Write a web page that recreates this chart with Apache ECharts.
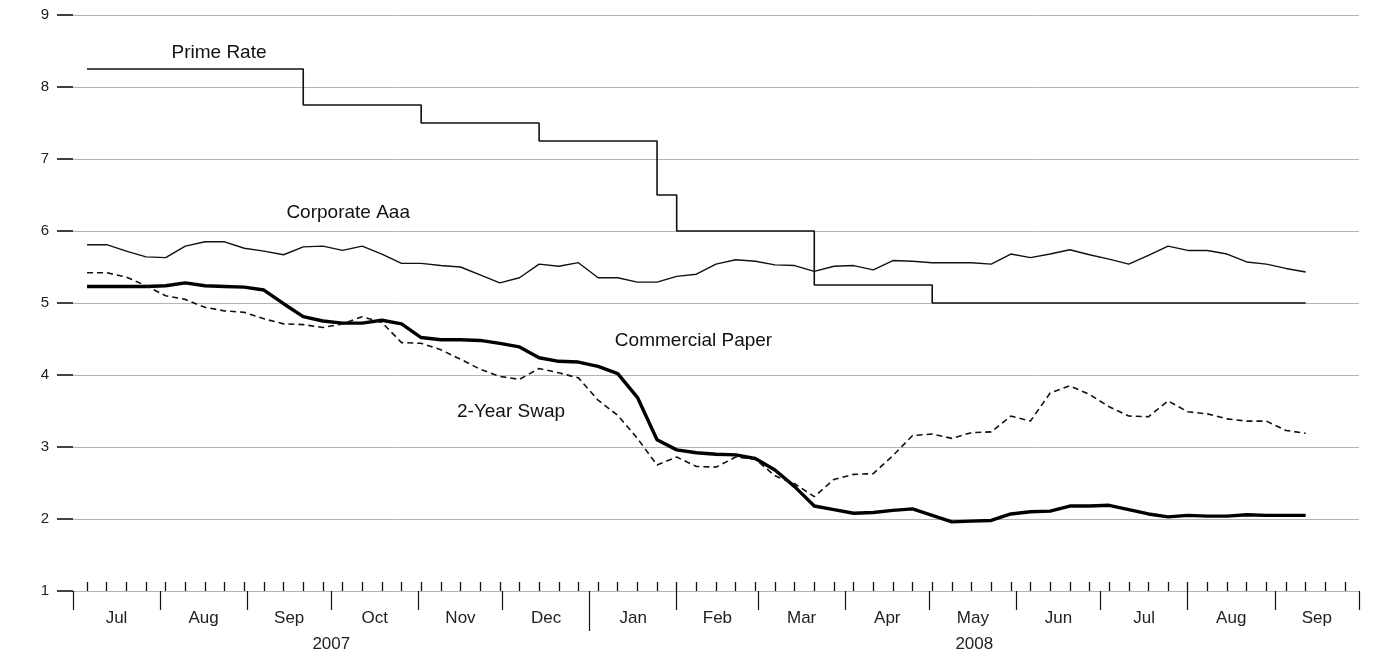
<!DOCTYPE html>
<html>
<head>
<meta charset="utf-8">
<script src="https://cdn.jsdelivr.net/npm/echarts@6/dist/echarts.min.js"></script>
<style>
html, body { margin: 0; padding: 0; background: #fff; }
#chart { width: 1379px; height: 658px; }
</style>
</head>
<body>
<div id="chart"></div>
<script>
// weekly readings (Fridays), first one 6 Jul 2007
var DAY = 86400000;
var firstWeek = Date.UTC(2007, 6, 6);

var primeRate = [8.25, 8.25, 8.25, 8.25, 8.25, 8.25, 8.25, 8.25, 8.25, 8.25, 8.25,
    7.75, 7.75, 7.75, 7.75, 7.75, 7.75,
    7.5, 7.5, 7.5, 7.5, 7.5, 7.5,
    7.25, 7.25, 7.25, 7.25, 7.25, 7.25,
    6.5,
    6.0, 6.0, 6.0, 6.0, 6.0, 6.0, 6.0,
    5.25, 5.25, 5.25, 5.25, 5.25, 5.25,
    5.0, 5.0, 5.0, 5.0, 5.0, 5.0, 5.0, 5.0, 5.0, 5.0, 5.0, 5.0, 5.0, 5.0, 5.0, 5.0, 5.0, 5.0, 5.0, 5.0];

var corporateAaa = [5.81, 5.81, 5.72, 5.64, 5.63, 5.79, 5.85, 5.85, 5.76, 5.72, 5.67,
    5.78, 5.79, 5.73, 5.79, 5.68, 5.55, 5.55, 5.52, 5.50, 5.39,
    5.28, 5.35, 5.54, 5.51, 5.56, 5.35, 5.35, 5.29, 5.29, 5.37,
    5.40, 5.54, 5.60, 5.58, 5.53, 5.52, 5.44, 5.51, 5.52, 5.46,
    5.59, 5.58, 5.56, 5.56, 5.56, 5.54, 5.68, 5.63, 5.68, 5.74,
    5.67, 5.61, 5.54, 5.66, 5.79, 5.73, 5.73, 5.68, 5.57, 5.54, 5.48, 5.43];

var commercialPaper = [5.23, 5.23, 5.23, 5.23, 5.24, 5.28, 5.24, 5.23, 5.22, 5.18, 4.99,
    4.81, 4.75, 4.72, 4.72, 4.76, 4.71, 4.52, 4.49, 4.49, 4.48,
    4.44, 4.39, 4.24, 4.19, 4.18, 4.12, 4.02, 3.69, 3.10, 2.96,
    2.92, 2.90, 2.89, 2.84, 2.68, 2.45, 2.18, 2.13, 2.08, 2.09,
    2.12, 2.14, 2.05, 1.96, 1.97, 1.98, 2.07, 2.10, 2.11, 2.18,
    2.18, 2.19, 2.13, 2.07, 2.03, 2.05, 2.04, 2.04, 2.06, 2.05, 2.05, 2.05];

var twoYearSwap = [5.42, 5.42, 5.36, 5.24, 5.10, 5.05, 4.94, 4.89, 4.87, 4.78, 4.71,
    4.70, 4.66, 4.71, 4.81, 4.73, 4.45, 4.44, 4.35, 4.22, 4.08,
    3.98, 3.94, 4.09, 4.03, 3.96, 3.65, 3.44, 3.12, 2.75, 2.86,
    2.73, 2.72, 2.86, 2.83, 2.60, 2.49, 2.31, 2.55, 2.62, 2.63,
    2.88, 3.16, 3.18, 3.12, 3.20, 3.21, 3.43, 3.36, 3.75, 3.85,
    3.73, 3.56, 3.43, 3.42, 3.64, 3.49, 3.46, 3.39, 3.36, 3.36, 3.23, 3.19];

var monthLabels = ['Jul', 'Aug', 'Sep', 'Oct', 'Nov', 'Dec', 'Jan', 'Feb', 'Mar', 'Apr', 'May', 'Jun', 'Jul', 'Aug', 'Sep'];
var yearLabels = ['2007', '2008'];

// series names written on the plot: [text, date, value]
var seriesLabels = [
    ['Prime Rate', Date.UTC(2007, 7, 22), 8.48],
    ['Corporate Aaa', Date.UTC(2007, 9, 7), 6.26],
    ['Commercial Paper', Date.UTC(2008, 1, 7), 4.47],
    ['2-Year Swap', Date.UTC(2007, 11, 4), 3.49]
];

var weeks = primeRate.map(function (v, i) { return firstWeek + i * 7 * DAY; });
function pairs(vals) {
    return vals.map(function (v, i) { return [weeks[i], v]; });
}

// month boundaries Jul 2007 .. Oct 2008
var monthStarts = [];
for (var k = 0; k <= monthLabels.length; k++) monthStarts.push(Date.UTC(2007, 6 + k, 1));
var monthMids = [];
for (var k = 0; k < monthLabels.length; k++) monthMids.push((monthStarts[k] + monthStarts[k + 1]) / 2);
var yearStart = Date.UTC(2008, 0, 1);
var yearMids = [(monthStarts[0] + yearStart) / 2, (yearStart + monthStarts[monthStarts.length - 1]) / 2];
var monthTicks = monthStarts.filter(function (t) { return t !== yearStart; });

var xMin = monthStarts[0], xMax = monthStarts[monthStarts.length - 1];

// small weekly ticks run over the whole axis
var weekTicks = [];
for (var t = firstWeek; t < xMax; t += 7 * DAY) weekTicks.push(t);

function nearest(list, v) {
    var best = 0;
    for (var i = 1; i < list.length; i++) {
        if (Math.abs(list[i] - v) < Math.abs(list[best] - v)) best = i;
    }
    return best;
}

var font = "'Liberation Sans', Arial, Helvetica, sans-serif";

var chart = echarts.init(document.getElementById('chart'));
var option = {
    animation: false,
    backgroundColor: '#fff',
    grid: { left: 73, right: 20, top: 15, bottom: 67 },
    xAxis: [
        {
            type: 'value', min: xMin, max: xMax, position: 'bottom',
            splitLine: { show: false },
            axisLine: { show: true, lineStyle: { color: '#b4b4b4', width: 1 } },
            axisTick: { show: true, inside: true, length: 9, customValues: weekTicks, lineStyle: { color: '#111', width: 1.3 } },
            axisLabel: {
                customValues: monthMids, margin: 19, color: '#222', fontSize: 17, fontFamily: font,
                formatter: function (v) { return monthLabels[nearest(monthMids, v)]; }
            }
        },
        {
            type: 'value', min: xMin, max: xMax, gridIndex: 0, position: 'bottom',
            splitLine: { show: false },
            axisLine: { show: false },
            axisTick: { show: true, length: 19, customValues: monthTicks, lineStyle: { color: '#111', width: 1.2 } },
            axisLabel: { show: false }
        },
        {
            type: 'value', min: xMin, max: xMax, gridIndex: 0, position: 'bottom',
            splitLine: { show: false },
            axisLine: { show: false },
            axisTick: { show: true, length: 40, customValues: [yearStart], lineStyle: { color: '#111', width: 1.2 } },
            axisLabel: {
                customValues: yearMids, margin: 45, color: '#222', fontSize: 17, fontFamily: font,
                formatter: function (v) { return yearLabels[nearest(yearMids, v)]; }
            }
        }
    ],
    yAxis: {
        type: 'value', min: 1, max: 9, interval: 1,
        axisLine: { show: false },
        axisTick: { show: true, length: 16, lineStyle: { color: '#111', width: 1.6 } },
        axisLabel: { margin: 24, color: '#222', fontSize: 15, fontFamily: font },
        splitLine: { show: true, lineStyle: { color: '#b4b4b4', width: 1 } }
    },
    series: [
        {
            name: 'Prime Rate', type: 'line', step: 'end', data: pairs(primeRate),
            symbol: 'none', lineStyle: { color: '#111', width: 1.6 }
        },
        {
            name: 'Corporate Aaa', type: 'line', data: pairs(corporateAaa),
            symbol: 'none', lineStyle: { color: '#111', width: 1.4 }
        },
        {
            name: 'Commercial Paper', type: 'line', data: pairs(commercialPaper),
            symbol: 'none', lineStyle: { color: '#000', width: 3.4 }
        },
        {
            name: '2-Year Swap', type: 'line', data: pairs(twoYearSwap),
            symbol: 'none', lineStyle: { color: '#111', width: 1.6, type: [6, 4] }
        }
    ]
};
chart.setOption(option);

// names of the series as text on the plot
chart.setOption({
    graphic: seriesLabels.map(function (l) {
        var p = chart.convertToPixel({ xAxisIndex: 0, yAxisIndex: 0 }, [l[1], l[2]]);
        return {
            type: 'text', x: p[0], y: p[1], silent: true,
            style: { text: l[0], fill: '#111', font: '19px ' + font, textAlign: 'center', textVerticalAlign: 'middle' }
        };
    })
});
</script>
</body>
</html>
